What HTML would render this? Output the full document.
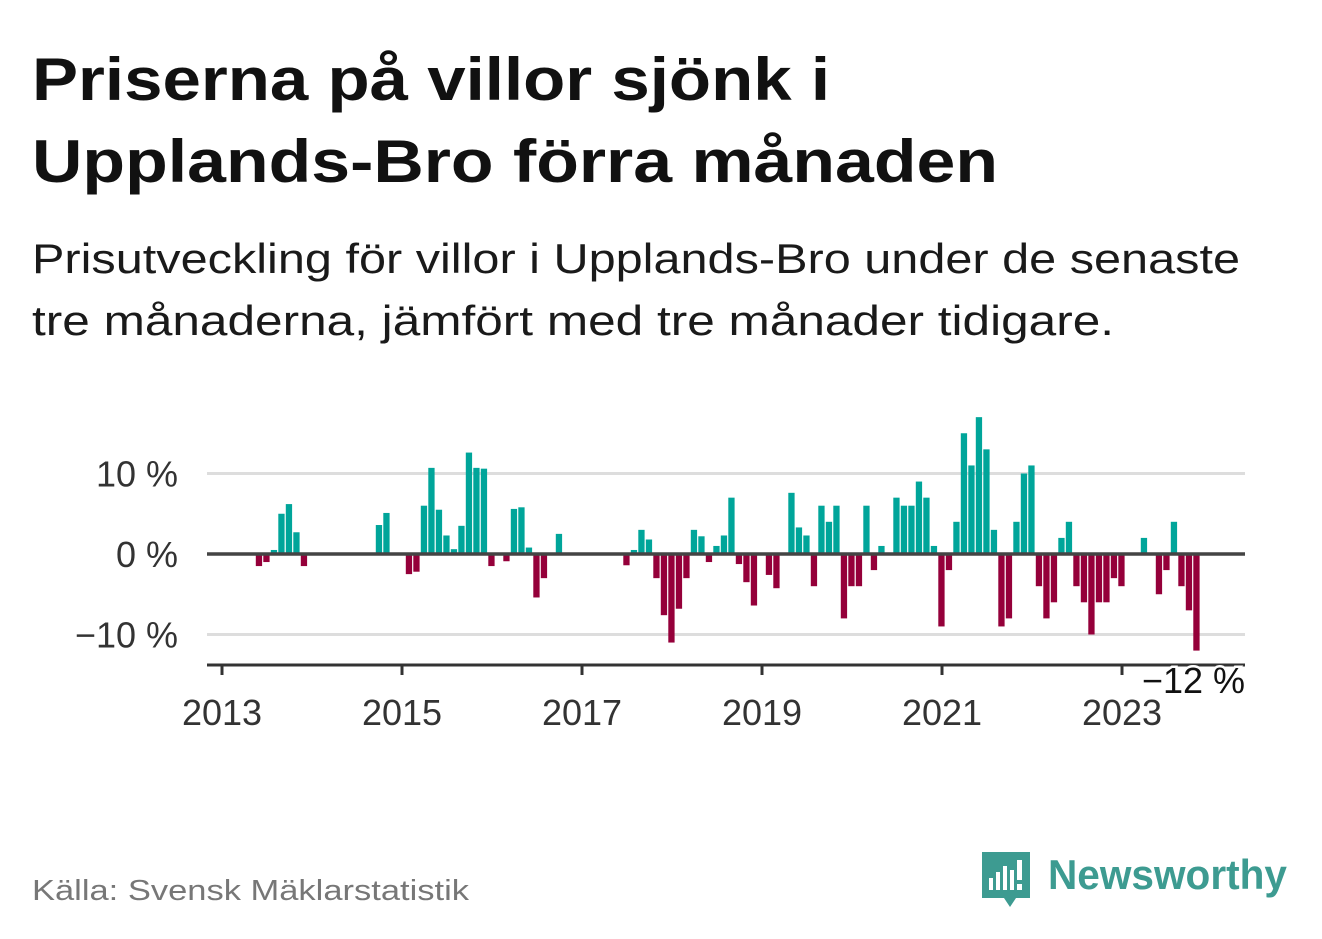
<!DOCTYPE html>
<html><head><meta charset="utf-8"><style>
body{margin:0;background:#fff;}
svg{display:block;font-family:"Liberation Sans",sans-serif;}
</style></head><body>
<svg width="1322" height="939" viewBox="0 0 1322 939">
<text x="32" y="100" font-size="60" font-weight="bold" fill="#111" textLength="798" lengthAdjust="spacingAndGlyphs">Priserna på villor sjönk i</text>
<text x="32" y="182" font-size="60" font-weight="bold" fill="#111" textLength="966" lengthAdjust="spacingAndGlyphs">Upplands-Bro förra månaden</text>
<text x="32" y="273" font-size="42" fill="#1a1a1a" textLength="1208" lengthAdjust="spacingAndGlyphs">Prisutveckling för villor i Upplands-Bro under de senaste</text>
<text x="32" y="335" font-size="42" fill="#1a1a1a" textLength="1082" lengthAdjust="spacingAndGlyphs">tre månaderna, jämfört med tre månader tidigare.</text>
<g id="plot"></g>
<text x="32" y="900" font-size="29" fill="#777" textLength="437" lengthAdjust="spacingAndGlyphs">Källa: Svensk Mäklarstatistik</text>
<g>
<path d="M982 852 h48 v46 h-14 l-6 9 l-6 -9 h-22 z" fill="#3d9b91"/>
<rect x="989" y="878" width="4" height="12" fill="#fff"/><rect x="996" y="872" width="4" height="18" fill="#fff"/><rect x="1003" y="866" width="4" height="24" fill="#fff"/><rect x="1010" y="870" width="4" height="20" fill="#fff"/><rect x="1017" y="860" width="5" height="20" fill="#fff"/><rect x="1017" y="884" width="5" height="6" fill="#fff"/>
<text x="1048" y="889" font-size="42" font-weight="bold" fill="#3d9b91" textLength="239" lengthAdjust="spacingAndGlyphs">Newsworthy</text>
</g>
</svg>
<script>
const startYear = 2013;
const values = [null,null,null,null,null,-1.5,-1.0,0.5,5.0,6.2,2.7,-1.5,
null,null,null,null,null,null,null,null,null,3.6,5.1,null,
null,-2.5,-2.2,6.0,10.7,5.5,2.3,0.6,3.5,12.6,10.7,10.6,
-1.5,null,-0.9,5.6,5.8,0.8,-5.4,-3.0,null,2.5,null,null,
null,null,null,null,null,null,-1.4,0.5,3.0,1.8,-3.0,-7.6,
-11.0,-6.8,-3.0,3.0,2.2,-1.0,1.0,2.3,7.0,-1.25,-3.5,-6.4,
null,-2.6,-4.25,null,7.6,3.3,2.3,-4.0,6.0,4.0,6.0,-8.0,
-4.0,-4.0,6.0,-2.0,1.0,null,7.0,6.0,6.0,9.0,7.0,1.0,
-9.0,-2.0,4.0,15.0,11.0,17.0,13.0,3.0,-9.0,-8.0,4.0,10.0,
11.0,-4.0,-8.0,-6.0,2.0,4.0,-4.0,-6.0,-10.0,-6.0,-6.0,-3.0,
-4.0,null,null,2.0,null,-5.0,-2.0,4.0,-4.0,-7.0,-12.0];
const yTicks = [10, 0, -10];
const yTickLabels = ["10 %", "0 %", "\u221210 %"];
const xTickYears = [2013, 2015, 2017, 2019, 2021, 2023];
const lastLabel = "\u221212 %";

const NS = "http://www.w3.org/2000/svg";
const g = document.getElementById("plot");
const x = m => 221.3 + 7.5 * m;
const xYear = yr => 222 + 90 * (yr - startYear);
const y = v => 554 - 8.05 * v;
function mk(tag, attrs, parent){const e=document.createElementNS(NS,tag);for(const k in attrs)e.setAttribute(k,attrs[k]);(parent||g).appendChild(e);return e;}

yTicks.forEach((t,i)=>{
  if(t!==0){
    const l=mk("line",{x1:207,x2:1245,y1:y(t),y2:y(t),stroke:"#ddd","stroke-width":3});
    
    
  }
  const tx=mk("text",{x:178,y:y(t)+13,"text-anchor":"end","font-size":36,fill:"#333"});
  tx.textContent=yTickLabels[i];
  
  
});
values.forEach((v,m)=>{
  if(v===null||v===0)return;
  const top=Math.min(y(v),y(0)), h=Math.abs(y(v)-y(0));
  const r=mk("rect",{x:x(m)-3,y:top,width:6.3,height:h,fill:v>0?"#00a59a":"#95003a"});
  
  
});
const zl=mk("line",{x1:207,x2:1245,y1:y(0),y2:y(0),stroke:"#444","stroke-width":3.5});


const ax=mk("line",{x1:207,x2:1245,y1:665,y2:665,stroke:"#333","stroke-width":3});


xTickYears.forEach(yr=>{
  const tk=mk("line",{x1:xYear(yr),x2:xYear(yr),y1:665,y2:675,stroke:"#333","stroke-width":3});
  
  
  const t=mk("text",{x:xYear(yr),y:725,"text-anchor":"middle","font-size":36,fill:"#333"});
  t.textContent=yr;
  
  
});
const ann=mk("text",{x:1245,y:693,"text-anchor":"end","font-size":36,fill:"#111",stroke:"#fff","stroke-width":5,"paint-order":"stroke"});
ann.textContent=lastLabel;


</script>
</body></html>
